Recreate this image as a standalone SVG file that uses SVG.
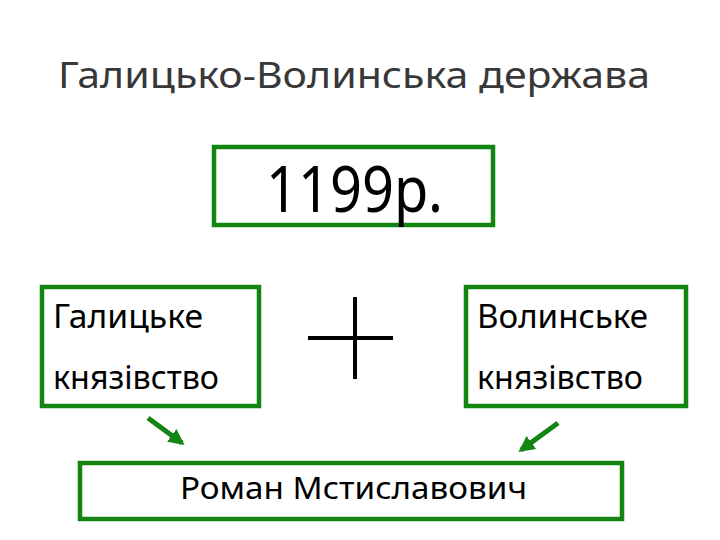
<svg xmlns="http://www.w3.org/2000/svg" width="720" height="540" viewBox="0 0 720 540">
<defs>
<style>
.box{fill:#fff;stroke:#138513;stroke-width:4.5}
.t{font-family:"Noto Sans","DejaVu Sans",sans-serif;fill:#000}
.arr{stroke:#138513;stroke-width:5;fill:none;marker-end:url(#ah)}
</style>
<marker id="ah" viewBox="0 0 10 10" refX="8" refY="5" markerWidth="3.2" markerHeight="3.2" orient="auto" markerUnits="strokeWidth">
<path d="M0,0 L10,5 L0,10 z" fill="#138513"/>
</marker>
</defs>
<rect width="720" height="540" fill="#fff"/>
<text class="t" x="58" y="88" font-size="36" style="fill:#383838" textLength="592" lengthAdjust="spacingAndGlyphs">Галицько-Волинська держава</text>
<g id="year">
<rect class="box" x="214" y="147" width="279" height="78"/>
<text class="t" x="266" y="212" font-size="63" textLength="177" lengthAdjust="spacingAndGlyphs">1199р.</text>
</g>
<g id="galicia">
<rect class="box" x="42" y="287" width="217" height="119"/>
<text class="t" x="53" y="328" font-size="33" textLength="150" lengthAdjust="spacingAndGlyphs">Галицьке</text>
<text class="t" x="53" y="389" font-size="33" textLength="166" lengthAdjust="spacingAndGlyphs">князівство</text>
</g>
<g id="plus">
<line x1="355" y1="297" x2="355" y2="379" stroke="#000" stroke-width="4"/>
<line x1="308" y1="338" x2="393" y2="338" stroke="#000" stroke-width="4"/>
</g>
<g id="volhynia">
<rect class="box" x="466" y="287" width="220" height="119"/>
<text class="t" x="477" y="328" font-size="33" textLength="171" lengthAdjust="spacingAndGlyphs">Волинське</text>
<text class="t" x="477" y="389" font-size="33" textLength="166" lengthAdjust="spacingAndGlyphs">князівство</text>
</g>
<g id="roman">
<rect class="box" x="80" y="463" width="542" height="56"/>
<text class="t" x="180" y="499" font-size="31" textLength="347" lengthAdjust="spacingAndGlyphs">Роман Мстиславович</text>
</g>
<g id="connectors">
<line class="arr" x1="148" y1="418" x2="182" y2="443"/>
<line class="arr" x1="558" y1="423" x2="521" y2="450"/>
</g>
</svg>
